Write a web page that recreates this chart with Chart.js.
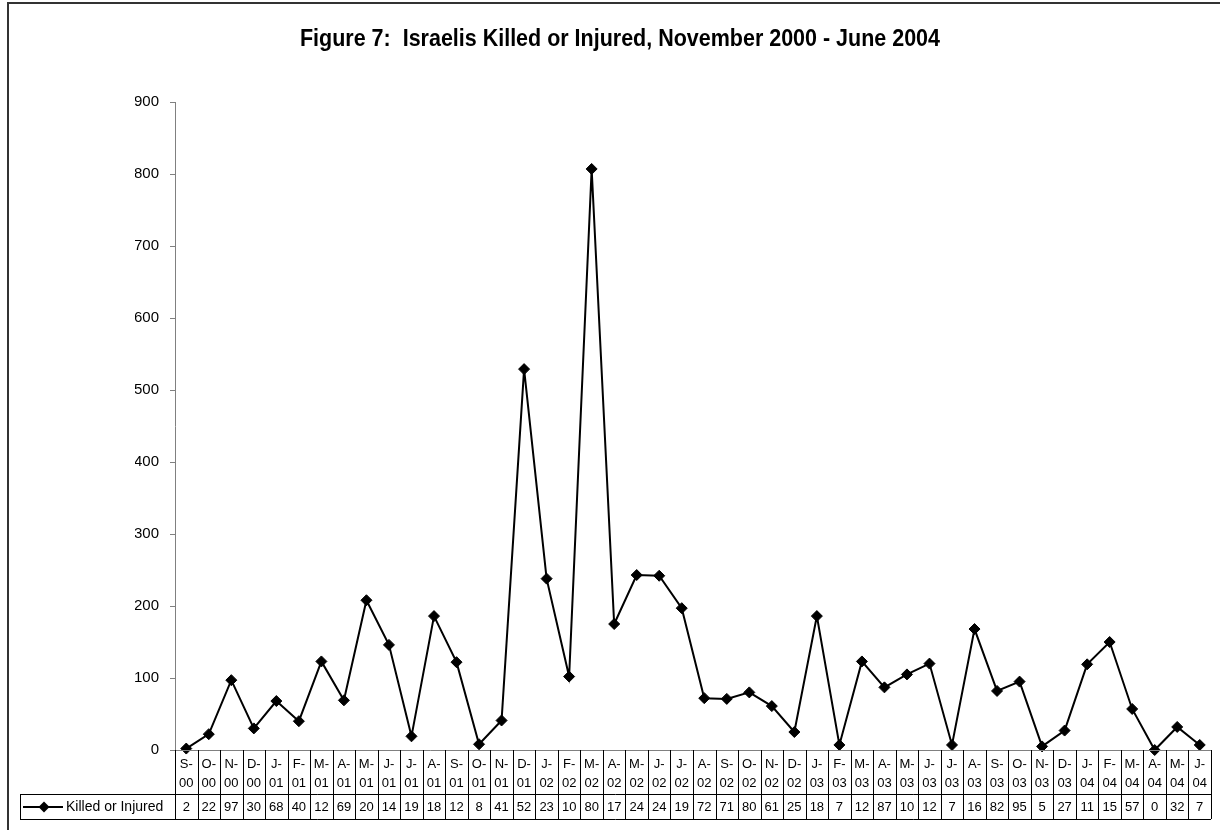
<!DOCTYPE html>
<html>
<head>
<meta charset="utf-8">
<script src="https://cdn.jsdelivr.net/npm/chart.js@4.4.1/dist/chart.umd.min.js"></script>
<style>
  html, body { margin: 0; padding: 0; background: #fff; }
  #myChart { display: block; }
</style>
</head>
<body>
<canvas id="myChart" width="1220" height="830"></canvas>
<script>
const chartTitle = 'Figure 7:  Israelis Killed or Injured, November 2000 - June 2004';
const seriesName = 'Killed or Injured';

const months = [
  'S-00', 'O-00', 'N-00', 'D-00',
  'J-01', 'F-01', 'M-01', 'A-01', 'M-01', 'J-01', 'J-01', 'A-01', 'S-01', 'O-01', 'N-01', 'D-01',
  'J-02', 'F-02', 'M-02', 'A-02', 'M-02', 'J-02', 'J-02', 'A-02', 'S-02', 'O-02', 'N-02', 'D-02',
  'J-03', 'F-03', 'M-03', 'A-03', 'M-03', 'J-03', 'J-03', 'A-03', 'S-03', 'O-03', 'N-03', 'D-03',
  'J-04', 'F-04', 'M-04', 'A-04', 'M-04', 'J-04'
];

const killedOrInjured = [
  2, 22, 97, 30,
  68, 40, 123, 69, 208, 146, 19, 186, 122, 8, 41, 529,
  238, 102, 807, 175, 243, 242, 197, 72, 71, 80, 61, 25,
  186, 7, 123, 87, 105, 120, 7, 168, 82, 95, 5, 27,
  119, 150, 57, 0, 32, 7
];

// the data table cells are too narrow, so only the first two digits show
const tableText = killedOrInjured.map(v => String(v).slice(0, 2));

const yMin = 0;
const yMax = 900;
const yStep = 100;

const FONT = '"Liberation Sans", Arial, Helvetica, sans-serif';
Chart.defaults.font.family = FONT;
Chart.defaults.color = '#000';

function diamond(ctx, x, y, r) {
  ctx.beginPath();
  ctx.moveTo(x, y - r);
  ctx.lineTo(x + r, y);
  ctx.lineTo(x, y + r);
  ctx.lineTo(x - r, y);
  ctx.closePath();
  ctx.fill();
}

const frameAndTable = {
  id: 'frameAndTable',
  afterDraw(chart) {
    const ctx = chart.ctx;
    const area = chart.chartArea;
    const xs = chart.scales.x;
    const n = months.length;
    const w = (area.right - area.left) / n;

    ctx.save();

    // outer frame (top and left only are visible)
    ctx.strokeStyle = '#333';
    ctx.lineWidth = 2;
    ctx.beginPath();
    ctx.moveTo(8, 830);
    ctx.lineTo(8, 3);
    ctx.lineTo(1220, 3);
    ctx.stroke();

    // title, slightly condensed
    ctx.fillStyle = '#000';
    ctx.font = 'bold 24px ' + FONT;
    ctx.textAlign = 'center';
    ctx.textBaseline = 'alphabetic';
    const tw = ctx.measureText(chartTitle).width;
    ctx.save();
    ctx.translate(620, 46);
    ctx.scale(640 / tw, 1);
    ctx.fillText(chartTitle, 0, 0);
    ctx.restore();

    // data table
    const top = area.bottom;
    const mid = 794;
    const bot = 819;
    const labelLeft = 20;

    ctx.strokeStyle = '#808080';
    ctx.lineWidth = 1;
    ctx.beginPath();
    ctx.moveTo(area.left - 5, top + 0.5);
    ctx.lineTo(area.right, top + 0.5);
    ctx.stroke();

    ctx.strokeStyle = '#000';
    ctx.beginPath();
    ctx.moveTo(labelLeft, mid + 0.5);
    ctx.lineTo(area.right, mid + 0.5);
    ctx.moveTo(labelLeft, bot + 0.5);
    ctx.lineTo(area.right, bot + 0.5);
    ctx.moveTo(labelLeft + 0.5, mid);
    ctx.lineTo(labelLeft + 0.5, bot);
    for (let i = 0; i <= n; i++) {
      const px = Math.round(xs.getPixelForValue(Math.min(i, n - 1)) + (i === n ? w / 2 : -w / 2)) + 0.5;
      ctx.moveTo(px, top);
      ctx.lineTo(px, bot);
    }
    ctx.stroke();

    ctx.font = '13px ' + FONT;
    ctx.textAlign = 'center';
    ctx.textBaseline = 'middle';
    months.forEach((m, i) => {
      const cx = xs.getPixelForValue(i);
      const parts = m.split('-');
      ctx.fillText(parts[0] + '-', cx, 764);
      ctx.fillText(parts[1], cx, 783);
      ctx.fillText(tableText[i], cx, 807);
    });

    // legend key inside the table
    ctx.lineWidth = 2;
    ctx.beginPath();
    ctx.moveTo(23, 807);
    ctx.lineTo(63, 807);
    ctx.stroke();
    diamond(ctx, 44, 807, 5.5);
    ctx.font = '14px ' + FONT;
    ctx.textAlign = 'left';
    ctx.fillText(seriesName, 66, 807);

    ctx.restore();
  }
};

const ctx = document.getElementById('myChart').getContext('2d');

new Chart(ctx, {
  type: 'line',
  data: {
    labels: months,
    datasets: [{
      label: seriesName,
      data: killedOrInjured,
      borderColor: '#000',
      borderWidth: 2,
      backgroundColor: '#000',
      pointStyle: 'rectRot',
      pointRadius: 5.5,
      pointBackgroundColor: '#000',
      pointBorderColor: '#000',
      pointBorderWidth: 1,
      tension: 0,
      clip: false
    }]
  },
  options: {
    responsive: false,
    animation: false,
    layout: { padding: { left: 135, right: 9, top: 102, bottom: 80 } },
    plugins: {
      legend: { display: false },
      tooltip: { enabled: false },
      title: { display: false }
    },
    scales: {
      x: {
        type: 'category',
        offset: true,
        display: false
      },
      y: {
        min: yMin,
        max: yMax,
        ticks: { stepSize: yStep, padding: 11, font: { size: 15 }, color: '#000' },
        grid: { display: true, drawOnChartArea: false, drawTicks: true, tickLength: 5, color: '#808080' },
        border: { display: true, color: '#808080', width: 1 },
        afterFit(scale) { scale.width = 40; }
      }
    }
  },
  plugins: [frameAndTable]
});
</script>
</body>
</html>
